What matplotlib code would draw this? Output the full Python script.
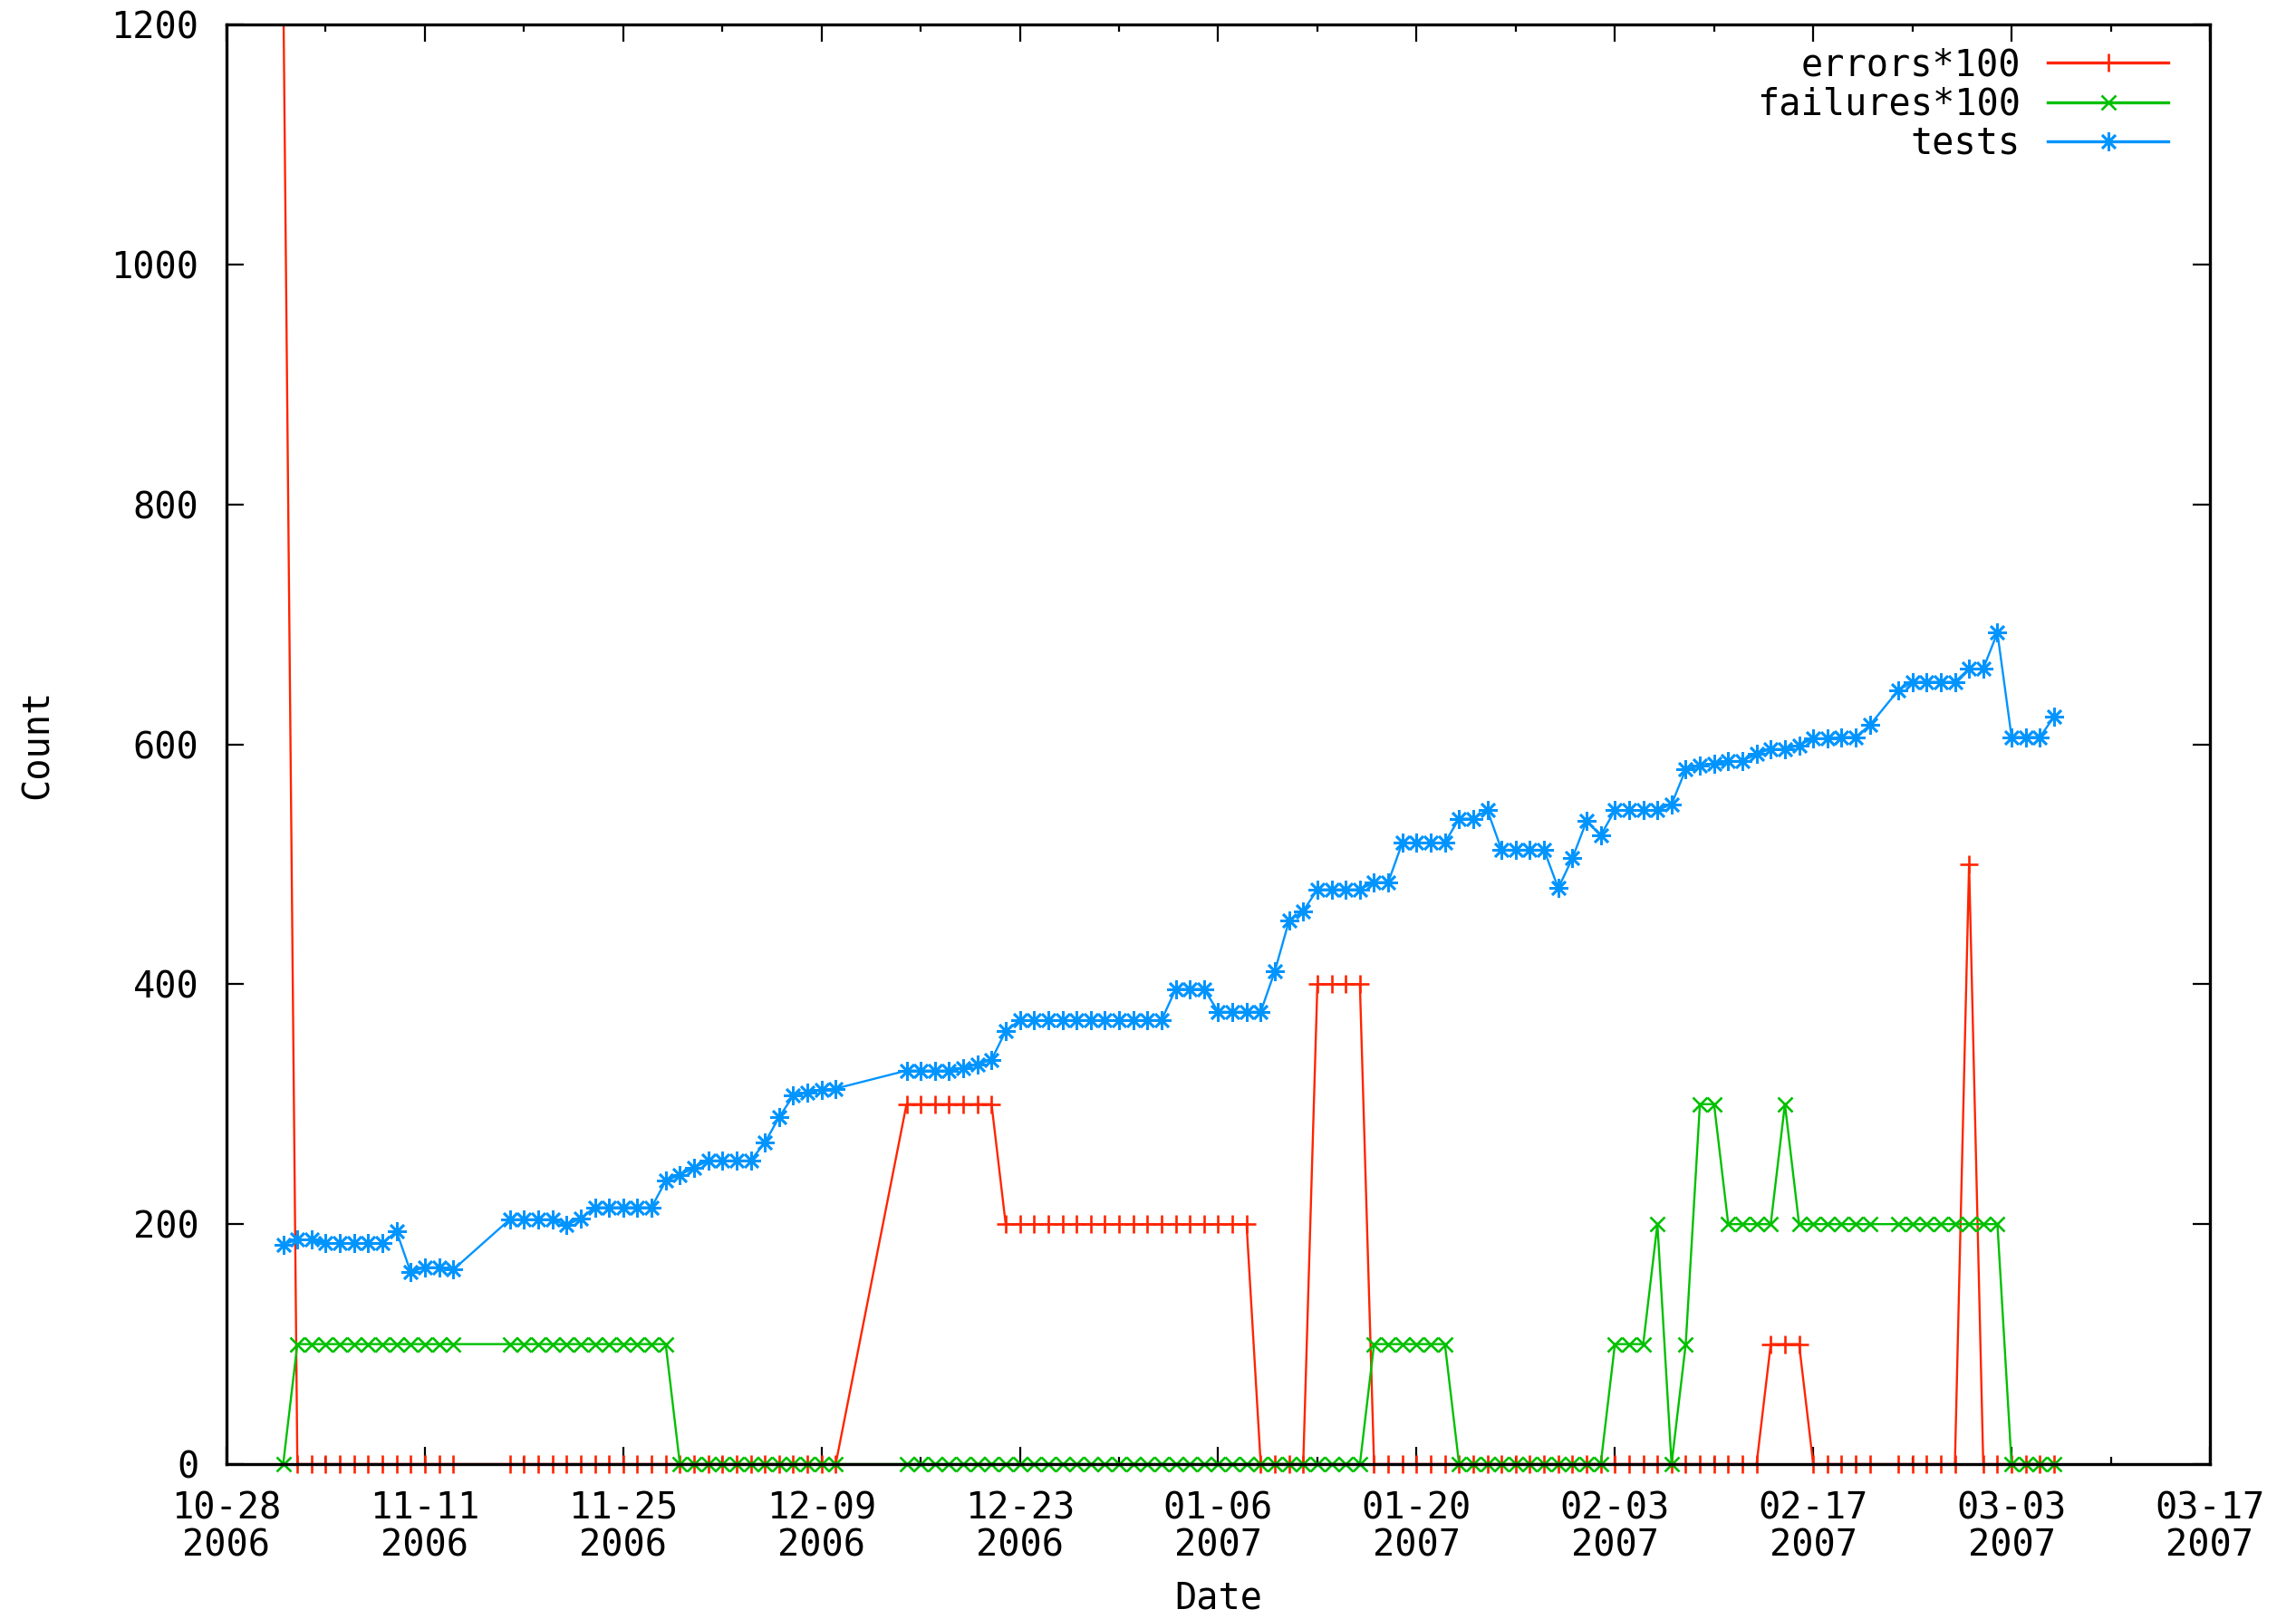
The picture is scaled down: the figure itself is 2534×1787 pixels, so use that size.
import numpy as np
import pandas as pd
import matplotlib
matplotlib.use('Agg')
import matplotlib.pyplot as plt
from matplotlib.lines import Line2D

# daily build dates, in runs (no data between runs)
date_runs = [('2006-11-01', '2006-11-13'), ('2006-11-17', '2006-12-10'),
             ('2006-12-15', '2007-02-21'), ('2007-02-23', '2007-03-06')]

tests = [183, 187, 187, 184, 184, 184, 184, 184, 194, 160, 164, 164, 162,
         204, 204, 204, 204, 199, 205, 214, 214, 214, 214, 214, 236, 241, 247,
         253, 253, 253, 253, 268, 289, 307, 310, 312, 313,
         328, 328, 328, 328, 330, 333, 337, 361, 370, 370, 370, 370, 370, 370,
         370, 370, 370, 370, 370, 396, 396, 396, 377, 377, 377, 377, 411, 453,
         461, 479, 479, 479, 479, 485, 485, 518, 518, 518, 518, 538, 538, 545,
         512, 512, 512, 512, 480, 505, 536, 524, 545, 545, 545, 545, 550, 579,
         582, 584, 586, 586, 592, 596, 596, 599, 605, 605, 606, 606, 616,
         645, 652, 652, 652, 652, 663, 663, 693, 606, 606, 606, 623]

errors100 = [1240,
             0, 0, 0, 0, 0, 0, 0, 0, 0, 0, 0, 0,
             0, 0, 0, 0, 0, 0, 0, 0, 0, 0, 0, 0,
             0, 0, 0, 0, 0, 0, 0, 0, 0, 0, 0, 0,
             300, 300, 300, 300, 300, 300, 300,
             200, 200, 200, 200, 200, 200, 200, 200, 200,
             200, 200, 200, 200, 200, 200, 200, 200, 200,
             0, 0, 0, 0, 400, 400, 400, 400,
             0, 0, 0, 0, 0, 0, 0, 0, 0, 0, 0, 0, 0, 0,
             0, 0, 0, 0, 0, 0, 0, 0, 0, 0, 0, 0, 0, 0,
             100, 100, 100, 0, 0, 0, 0, 0,
             0, 0, 0, 0, 0, 500, 0, 0, 0, 0, 0, 0]

failures100 = [0,
               100, 100, 100, 100, 100, 100, 100, 100, 100, 100, 100, 100,
               100, 100, 100, 100, 100, 100, 100, 100, 100, 100, 100, 100,
               0, 0, 0, 0, 0, 0, 0, 0, 0, 0, 0, 0,
               0, 0, 0, 0, 0, 0, 0, 0, 0, 0, 0,
               0, 0, 0, 0, 0, 0, 0, 0, 0, 0, 0,
               0, 0, 0, 0, 0, 0, 0, 0, 0, 0, 0,
               100, 100, 100, 100, 100, 100,
               0, 0, 0, 0, 0, 0, 0, 0, 0, 0, 0,
               100, 100, 100, 200, 0, 100, 300, 300, 200, 200, 200, 200, 300,
               200, 200, 200, 200, 200, 200,
               200, 200, 200, 200, 200, 200, 200, 200, 0, 0, 0, 0]

xtick_dates = ['2006-10-28', '2006-11-11', '2006-11-25', '2006-12-09', '2006-12-23',
               '2007-01-06', '2007-01-20', '2007-02-03', '2007-02-17', '2007-03-03',
               '2007-03-17']
yticks = [0, 200, 400, 600, 800, 1000, 1200]

dates = pd.DatetimeIndex(np.concatenate([pd.date_range(a, b, freq='D') for a, b in date_runs]))

FONT = 'DejaVu Sans Mono'
FS = 29
plt.rcParams['font.family'] = FONT

fig = plt.figure(figsize=(25.34, 17.87), dpi=100)
ax = fig.add_axes([250 / 2534, 1 - 1616 / 1787, (2439 - 250) / 2534, (1616 - 27) / 1787])

YMAX = 1200
series = [
    ('errors*100', errors100, '#ff2400', '+', 15),
    ('failures*100', failures100, '#00c000', 'x', 11),
    ('tests', tests, '#0094ff', (8, 2, 0), 15),
]
handles = []
for name, vals, col, mk, ms in series:
    vals = np.array(vals, dtype=float)
    ax.plot(dates, vals, '-', color=col, lw=1.7, zorder=2)
    ok = vals <= YMAX
    ax.plot(dates[ok], vals[ok], ls='none', marker=mk, ms=ms, mew=1.9,
            color=col, clip_on=False, zorder=2)
    handles.append(Line2D([], [], color=col, lw=2.4, marker=mk, ms=ms, mew=1.9))

ax.set_ylim(0, YMAX)
ax.set_xlim(pd.Timestamp(xtick_dates[0]), pd.Timestamp(xtick_dates[-1]))

major = [pd.Timestamp(d) for d in xtick_dates]
ax.set_xticks(major, [d.strftime('%m-%d\n%Y') for d in major], linespacing=1.05)
ax.set_xticks([d + pd.Timedelta(days=7) for d in major[:-1]], minor=True)
ax.set_yticks(yticks, [str(v) for v in yticks])

ax.tick_params(which='both', direction='in', top=True, right=True, width=1.6,
               labelsize=FS, colors='black')
ax.tick_params(which='major', length=14)
ax.tick_params(which='minor', length=6)
ax.tick_params(axis='x', pad=21)
ax.tick_params(axis='y', pad=22)
for s in ax.spines.values():
    s.set_linewidth(2.4)
    s.set_zorder(3)

ax.set_xlabel('Date', fontsize=FS, labelpad=13)
ax.set_ylabel('Count', fontsize=FS, labelpad=44)

ax.legend(handles, [s[0] for s in series], loc='upper right',
          bbox_to_anchor=(0.979, 0.984), frameon=False, fontsize=FS,
          markerfirst=False, handlelength=3.3, handletextpad=0.75,
          labelspacing=0.08, borderpad=0, borderaxespad=0, numpoints=1)

fig.savefig('out.png', dpi=100)
